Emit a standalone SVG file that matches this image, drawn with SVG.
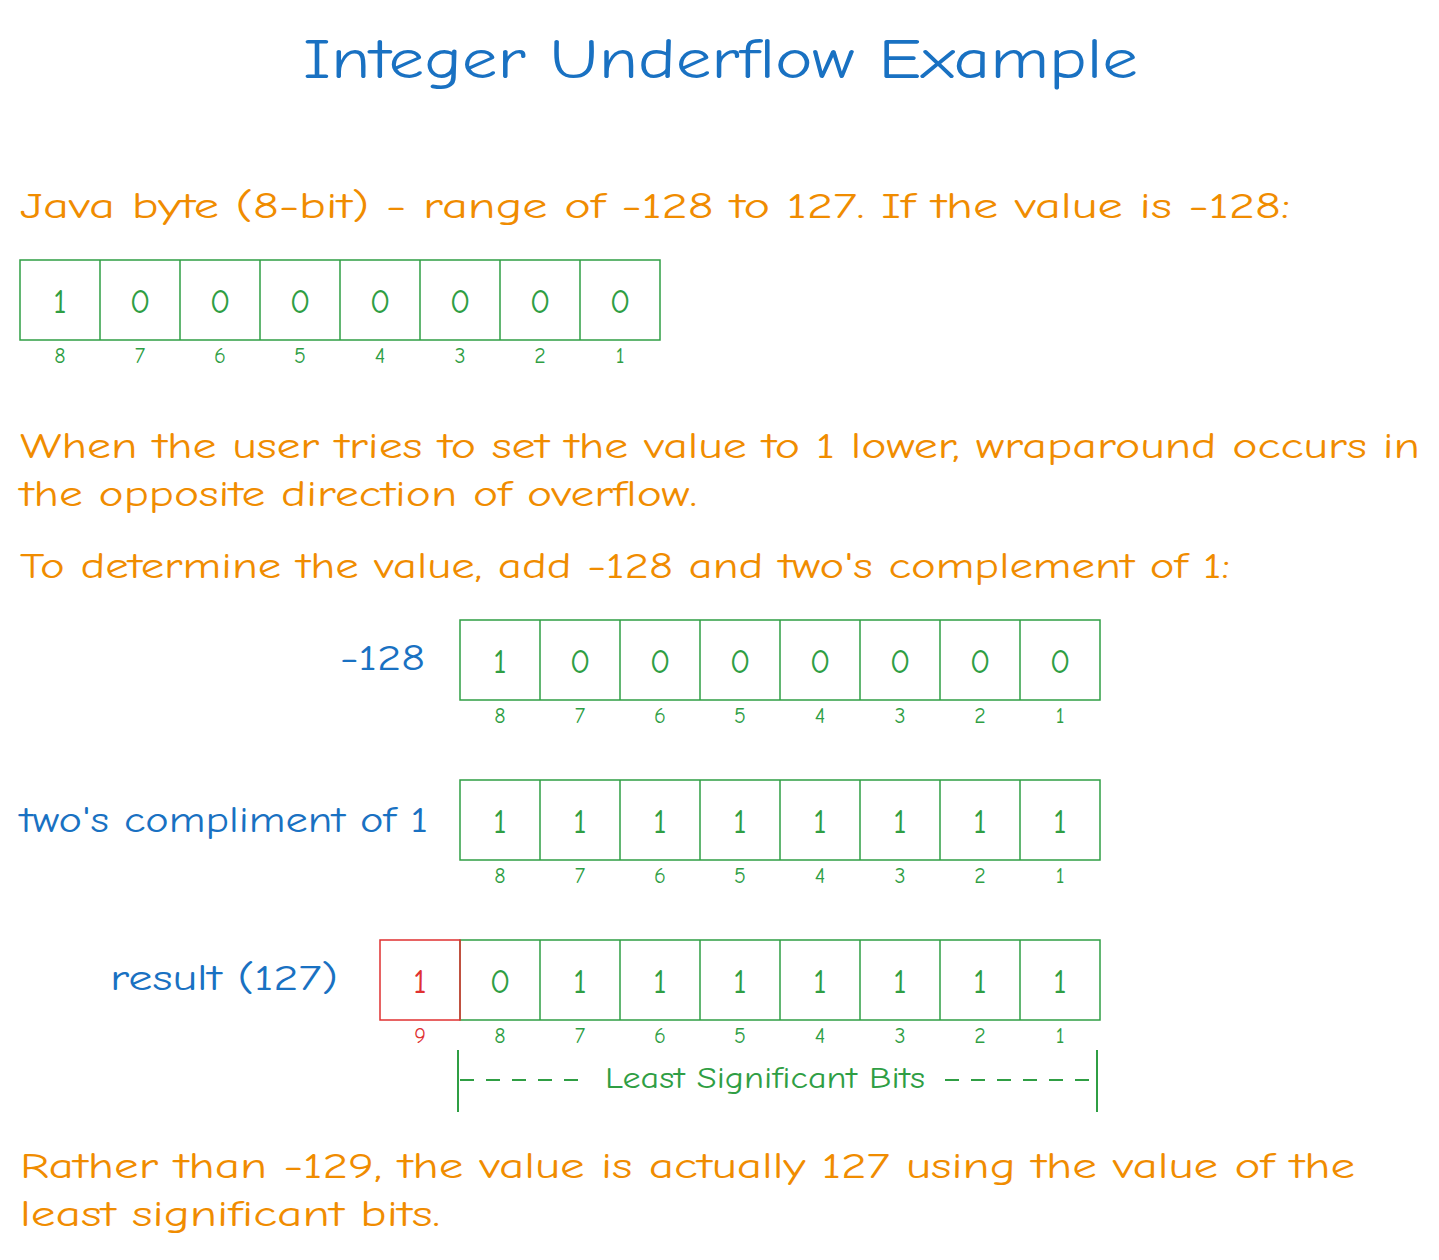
<svg xmlns="http://www.w3.org/2000/svg" width="1439" height="1260" viewBox="0 0 1439 1260">
<style>
text{font-family:"Comic Neue","Liberation Sans",sans-serif}
.t{fill:#1971c2;font-size:56px}
.o{fill:#f08c00;font-size:36px}
.b{fill:#1971c2;font-size:36px}
.c{fill:none;stroke:#2f9e44;stroke-width:1.5}
.r{fill:none;stroke:#e03131;stroke-width:1.5}
.d{fill:#2f9e44;font-size:34px;text-anchor:middle}
.dr{fill:#e03131;font-size:34px;text-anchor:middle}
.i{fill:#2f9e44;font-size:22px;text-anchor:middle}
.ir{fill:#e03131;font-size:22px;text-anchor:middle}
.l{stroke:#2f9e44;stroke-width:2;fill:none}
</style>
<rect width="1439" height="1260" fill="#fff"/>
<text class="t" x="303" y="78" textLength="835" lengthAdjust="spacingAndGlyphs">Integer Underflow Example</text>
<text class="o" x="20" y="218" textLength="1270" lengthAdjust="spacingAndGlyphs">Java byte (8-bit) - range of -128 to 127. If the value is -128:</text>
<g id="row1">
<rect class="c" x="20" y="260" width="640" height="80"/>
<path class="l" d="M100 260V340M180 260V340M260 260V340M340 260V340M420 260V340M500 260V340M580 260V340" style="stroke-width:1.5"/>
<text class="d" x="60" y="313">1</text><text class="d" x="140" y="313">0</text><text class="d" x="220" y="313">0</text><text class="d" x="300" y="313">0</text><text class="d" x="380" y="313">0</text><text class="d" x="460" y="313">0</text><text class="d" x="540" y="313">0</text><text class="d" x="620" y="313">0</text>
<text class="i" x="60" y="363">8</text><text class="i" x="140" y="363">7</text><text class="i" x="220" y="363">6</text><text class="i" x="300" y="363">5</text><text class="i" x="380" y="363">4</text><text class="i" x="460" y="363">3</text><text class="i" x="540" y="363">2</text><text class="i" x="620" y="363">1</text>
</g>
<text class="o" x="20" y="458" textLength="1400" lengthAdjust="spacingAndGlyphs">When the user tries to set the value to 1 lower, wraparound occurs in</text>
<text class="o" x="20" y="506" textLength="677" lengthAdjust="spacingAndGlyphs">the opposite direction of overflow.</text>
<text class="o" x="20" y="578" textLength="1210" lengthAdjust="spacingAndGlyphs">To determine the value, add -128 and two's complement of 1:</text>
<g id="row2">
<text class="b" x="340" y="670" textLength="85" lengthAdjust="spacingAndGlyphs">-128</text>
<rect class="c" x="460" y="620" width="640" height="80"/>
<path class="l" d="M540 620V700M620 620V700M700 620V700M780 620V700M860 620V700M940 620V700M1020 620V700" style="stroke-width:1.5"/>
<text class="d" x="500" y="673">1</text><text class="d" x="580" y="673">0</text><text class="d" x="660" y="673">0</text><text class="d" x="740" y="673">0</text><text class="d" x="820" y="673">0</text><text class="d" x="900" y="673">0</text><text class="d" x="980" y="673">0</text><text class="d" x="1060" y="673">0</text>
<text class="i" x="500" y="723">8</text><text class="i" x="580" y="723">7</text><text class="i" x="660" y="723">6</text><text class="i" x="740" y="723">5</text><text class="i" x="820" y="723">4</text><text class="i" x="900" y="723">3</text><text class="i" x="980" y="723">2</text><text class="i" x="1060" y="723">1</text>
</g>
<g id="row3">
<text class="b" x="20" y="832" textLength="408" lengthAdjust="spacingAndGlyphs">two's compliment of 1</text>
<rect class="c" x="460" y="780" width="640" height="80"/>
<path class="l" d="M540 780V860M620 780V860M700 780V860M780 780V860M860 780V860M940 780V860M1020 780V860" style="stroke-width:1.5"/>
<text class="d" x="500" y="833">1</text><text class="d" x="580" y="833">1</text><text class="d" x="660" y="833">1</text><text class="d" x="740" y="833">1</text><text class="d" x="820" y="833">1</text><text class="d" x="900" y="833">1</text><text class="d" x="980" y="833">1</text><text class="d" x="1060" y="833">1</text>
<text class="i" x="500" y="883">8</text><text class="i" x="580" y="883">7</text><text class="i" x="660" y="883">6</text><text class="i" x="740" y="883">5</text><text class="i" x="820" y="883">4</text><text class="i" x="900" y="883">3</text><text class="i" x="980" y="883">2</text><text class="i" x="1060" y="883">1</text>
</g>
<g id="row4">
<text class="b" x="110" y="990" textLength="228" lengthAdjust="spacingAndGlyphs">result (127)</text>
<rect class="c" x="460" y="940" width="640" height="80"/>
<rect class="r" x="380" y="940" width="80" height="80"/>
<path class="l" d="M540 940V1020M620 940V1020M700 940V1020M780 940V1020M860 940V1020M940 940V1020M1020 940V1020" style="stroke-width:1.5"/>
<text class="dr" x="420" y="993">1</text>
<text class="d" x="500" y="993">0</text><text class="d" x="580" y="993">1</text><text class="d" x="660" y="993">1</text><text class="d" x="740" y="993">1</text><text class="d" x="820" y="993">1</text><text class="d" x="900" y="993">1</text><text class="d" x="980" y="993">1</text><text class="d" x="1060" y="993">1</text>
<text class="ir" x="420" y="1043">9</text>
<text class="i" x="500" y="1043">8</text><text class="i" x="580" y="1043">7</text><text class="i" x="660" y="1043">6</text><text class="i" x="740" y="1043">5</text><text class="i" x="820" y="1043">4</text><text class="i" x="900" y="1043">3</text><text class="i" x="980" y="1043">2</text><text class="i" x="1060" y="1043">1</text>
</g>
<g id="connectors">
<path class="l" d="M458 1050V1112M1097 1050V1112"/>
<path class="l" d="M460 1080H590M945 1080H1095" stroke-dasharray="14 12"/>
</g>
<text x="605" y="1088" fill="#2f9e44" font-size="30" textLength="320" lengthAdjust="spacingAndGlyphs">Least Significant Bits</text>
<text class="o" x="20" y="1178" textLength="1335" lengthAdjust="spacingAndGlyphs">Rather than -129, the value is actually 127 using the value of the</text>
<text class="o" x="20" y="1226" textLength="420" lengthAdjust="spacingAndGlyphs">least significant bits.</text>
</svg>
